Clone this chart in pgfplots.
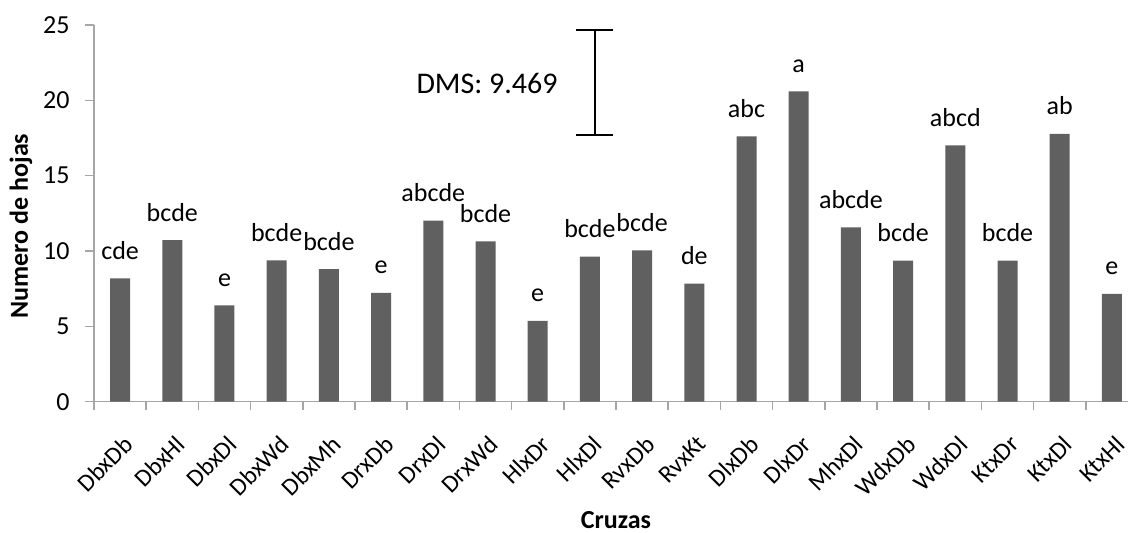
\documentclass[border=0pt]{standalone}
\usepackage{fontspec}
\setmainfont{Carlito}
\usepackage{pgfplots}
\pgfplotsset{compat=1.18}
\usepackage{pgfplotstable}

\definecolor{barfill}{HTML}{606060}
\definecolor{axisgray}{HTML}{A6A6A6}

% Numero de hojas por cruza, con la letra de agrupacion de medias
\pgfplotstableread{
x y lab
0 8.19 cde
1 10.73 bcde
2 6.40 e
3 9.38 bcde
4 8.79 bcde
5 7.23 e
6 12.01 abcde
7 10.64 bcde
8 5.36 e
9 9.62 bcde
10 10.04 bcde
11 7.83 de
12 17.61 abc
13 20.60 a
14 11.57 abcde
15 9.36 bcde
16 17.01 abcd
17 9.36 bcde
18 17.78 ab
19 7.15 e
}\datos

\begin{document}
\begin{tikzpicture}
\begin{axis}[
  name=ax, at={(0,0)}, anchor=south west,
  scale only axis, width=522pt, height=188.35pt,
  xmin=-0.5, xmax=19.5, ymin=0, ymax=25,
  clip=false,
  axis x line=bottom, axis y line=left,
  axis line style={axisgray, line width=0.8pt, -},
  tick align=outside,
  ytick={0,5,...,25},
  major tick length=4.5pt, minor tick length=4pt,
  y tick style={axisgray, line width=0.8pt},
  xtick={0,...,19},
  xticklabels={DbxDb,DbxHl,DbxDl,DbxWd,DbxMh,DrxDb,DrxDl,DrxWd,HlxDr,HlxDl,RvxDb,RvxKt,DlxDb,DlxDr,MhxDl,WdxDb,WdxDl,KtxDr,KtxDl,KtxHl},
  minor xtick={-0.5,0.5,...,19.5},
  major x tick style={draw=none},
  minor x tick style={axisgray, line width=0.8pt},
  /pgf/number format/assume math mode=true,
  yticklabel style={font=\fontsize{13}{15}\selectfont, text=black, anchor=east, inner sep=0pt, xshift=-7.5pt},
  xticklabel style={font=\fontsize{12.3}{14}\selectfont, text=black, inner sep=0pt, xshift=1pt, yshift=-11.5pt, rotate=45, anchor=north east},
  ylabel={\bfseries Numero de hojas},
  ylabel style={font=\fontsize{13}{15}\selectfont, at={(rel axis cs:0,0.466)}, anchor=center, yshift=36.5pt},
  xlabel={\bfseries Cruzas},
  xlabel style={font=\fontsize{13}{15}\selectfont, at={(rel axis cs:0.5,0)}, anchor=center, yshift=-59pt},
]
\addplot[ybar, bar width=10pt, fill=barfill, draw=none,
  point meta=explicit symbolic, nodes near coords,
  nodes near coords style={font=\fontsize{13}{15}\selectfont, anchor=base, inner sep=0pt, yshift=9.5pt, text=black}]
  table[x=x, y=y, meta=lab] {\datos};
% Diferencia minima significativa
\addplot[black, line width=1pt, mark=none] coordinates {(9.09,17.68) (9.09,24.67)};
\addplot[black, line width=1pt, mark=none] coordinates {(8.735,24.67) (9.445,24.67)};
\addplot[black, line width=1pt, mark=none] coordinates {(8.735,17.68) (9.445,17.68)};
\node[font=\fontsize{15}{18}\selectfont, text=black] at (axis cs:7.03,21.15) {DMS: 9.469};
\end{axis}
\pgfresetboundingbox
\path[use as bounding box] (-47pt,-65.5pt) rectangle (517pt,200.85pt);
\end{tikzpicture}
\end{document}
